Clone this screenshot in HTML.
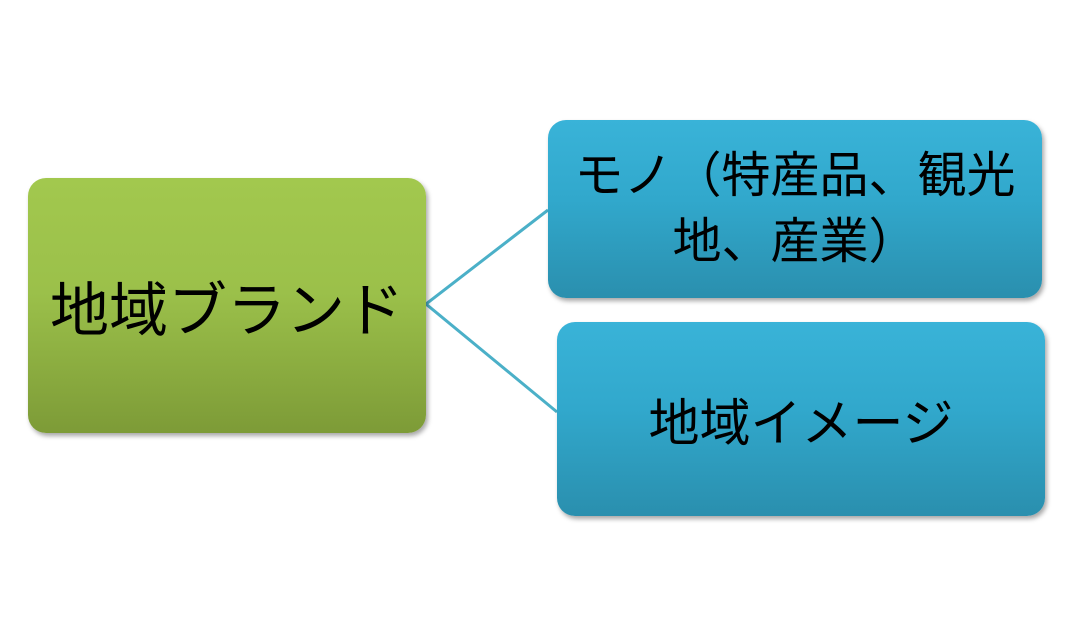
<!DOCTYPE html>
<html><head><meta charset="utf-8"><style>
body{margin:0;width:1067px;height:633px;background:#fff;position:relative;overflow:hidden;font-family:"Liberation Sans","Noto Sans CJK JP",sans-serif;}
.box{position:absolute;border-radius:18px;display:flex;align-items:center;justify-content:center;text-align:center;color:#000;box-shadow:2px 3px 5px rgba(0,0,0,0.35);}
.g{left:28px;top:178px;width:398px;height:255px;background:linear-gradient(#a2c84e,#9bc04a 45%,#7d9b37);font-size:59px;}
.b{background:linear-gradient(#39b3d8,#31a8cc 45%,#2a8fae);}
.b1{left:548px;top:120px;width:494px;height:178px;font-size:49px;line-height:66px;}
.b2{left:557px;top:322px;width:488px;height:194px;font-size:51px;}
</style></head><body>
<svg width="1067" height="633" style="position:absolute;left:0;top:0">
<polyline points="548,210 426,304 557,412" fill="none" stroke="#4bb0c8" stroke-width="3"/>
</svg>
<div class="box g">地域ブランド</div>
<div class="box b b1"><div>モノ（特産品、観光<br>地、産業）</div></div>
<div class="box b b2">地域イメージ</div>
</body></html>
